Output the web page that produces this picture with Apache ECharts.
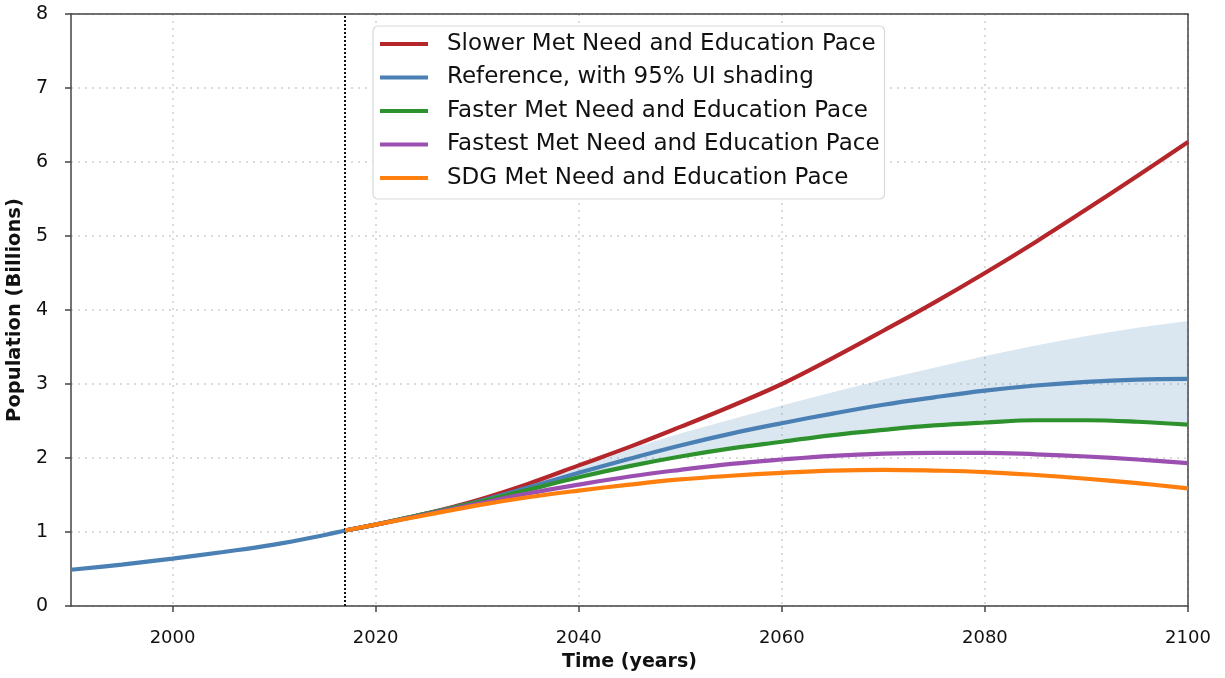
<!DOCTYPE html>
<html>
<head>
<meta charset="utf-8">
<script src="https://cdn.jsdelivr.net/npm/echarts@6/dist/echarts.min.js"></script>
<style>
html,body{margin:0;padding:0;background:#fff;}
#chart{width:1225px;height:678px;}
</style>
</head>
<body>
<div id="chart"></div>
<script>
// ---- data ----
const histYears = [1990, 1995, 2000, 2005, 2010, 2015, 2017];
const histValues = [0.49, 0.56, 0.64, 0.73, 0.83, 0.96, 1.02];

const projYears = [2017, 2020, 2025, 2030, 2035, 2040, 2045, 2050, 2055, 2060, 2065, 2070, 2075, 2080, 2085, 2090, 2095, 2100];
const slower    = [1.02, 1.10, 1.25, 1.43, 1.65, 1.90, 2.15, 2.42, 2.70, 3.00, 3.35, 3.72, 4.10, 4.50, 4.92, 5.36, 5.81, 6.27];
const reference = [1.02, 1.10, 1.25, 1.41, 1.60, 1.80, 1.99, 2.17, 2.33, 2.47, 2.60, 2.72, 2.82, 2.91, 2.98, 3.03, 3.06, 3.07];
const faster    = [1.02, 1.10, 1.25, 1.40, 1.57, 1.74, 1.89, 2.02, 2.13, 2.22, 2.31, 2.38, 2.44, 2.48, 2.51, 2.51, 2.49, 2.45];
const fastest   = [1.02, 1.10, 1.24, 1.38, 1.52, 1.64, 1.75, 1.84, 1.92, 1.98, 2.03, 2.06, 2.07, 2.07, 2.05, 2.02, 1.98, 1.93];
const sdg       = [1.02, 1.10, 1.23, 1.36, 1.47, 1.56, 1.64, 1.71, 1.76, 1.80, 1.83, 1.84, 1.83, 1.81, 1.77, 1.72, 1.66, 1.59];
const uiUpper   = [1.02, 1.10, 1.26, 1.44, 1.66, 1.90, 2.12, 2.33, 2.52, 2.71, 2.89, 3.06, 3.22, 3.38, 3.52, 3.65, 3.76, 3.85];
const uiLower   = [1.02, 1.10, 1.25, 1.40, 1.58, 1.76, 1.91, 2.05, 2.16, 2.25, 2.34, 2.41, 2.47, 2.51, 2.53, 2.53, 2.51, 2.48];

const vlineYear = 2017;
const xTicks = [2000, 2020, 2040, 2060, 2080, 2100];

const names = [
  'Slower Met Need and Education Pace',
  'Reference, with 95% UI shading',
  'Faster Met Need and Education Pace',
  'Fastest Met Need and Education Pace',
  'SDG Met Need and Education Pace'
];
const colors = ['#b5262b', '#4a80b4', '#2d922d', '#9b4fb0', '#ff7f0e'];

// ---- build ----
const zip = (xs, ys) => xs.map((x, i) => [x, ys[i]]);
const refAll = zip(histYears, histValues).concat(zip(projYears, reference).slice(1));
const FONT = 'DejaVu Sans';

function lineSeries(name, data, color, z) {
  return {
    name: name, type: 'line', data: data, smooth: 0.4, symbol: 'none', z: z,
    lineStyle: {color: color, width: 4.2}, itemStyle: {color: color}
  };
}

const chart = echarts.init(document.getElementById('chart'), null, {renderer: 'canvas'});
const axisLineStyle = {color: '#444', width: 1.5};
const gridDots = {color: '#cfcfcf', width: 1.5, type: [2, 5]};
const option = {
  animation: false,
  backgroundColor: '#fff',
  grid: {left: 71, right: 37, top: 14, bottom: 72, containLabel: false, outerBoundsMode: 'none'},
  legend: {
    data: names.map((n, i) => ({name: n, itemStyle: {color: colors[i]}})),
    orient: 'vertical', left: 373, top: 26,
    itemWidth: 48, itemHeight: 4, icon: 'rect', itemGap: 10.5,
    padding: [6.5, 5, 9.5, 7],
    backgroundColor: '#fff', borderColor: '#d9d9d9', borderWidth: 1.2, borderRadius: 5,
    textStyle: {fontFamily: FONT, fontSize: 23, lineHeight: 23, color: '#111', padding: [0, 0, 0, 14]}
  },
  xAxis: [{
    type: 'value', min: 1990, max: 2100,
    axisLine: {show: true, lineStyle: axisLineStyle},
    axisTick: {show: true, length: 6, lineStyle: axisLineStyle, customValues: xTicks},
    axisLabel: {fontFamily: FONT, fontSize: 18, color: '#111', margin: 23, customValues: xTicks,
      formatter: v => String(v)},
    splitLine: {show: true, lineStyle: gridDots},
    name: 'Time (years)', nameLocation: 'middle', nameGap: 47,
    nameTextStyle: {fontFamily: FONT, fontSize: 19, fontWeight: 'bold', color: '#111'}
  }, {
    type: 'value', min: 1990, max: 2100, position: 'top',
    axisLine: {show: true, onZero: false, lineStyle: axisLineStyle},
    axisTick: {show: false}, axisLabel: {show: false}, splitLine: {show: false}
  }],
  yAxis: [{
    type: 'value', min: 0, max: 8, interval: 1,
    axisLine: {show: true, lineStyle: axisLineStyle},
    axisTick: {show: true, length: 6, lineStyle: axisLineStyle},
    axisLabel: {fontFamily: FONT, fontSize: 19, color: '#111', margin: 23},
    splitLine: {show: true, lineStyle: gridDots},
    name: 'Population (Billions)', nameLocation: 'middle', nameGap: 39,
    nameTextStyle: {fontFamily: FONT, fontSize: 19.5, fontWeight: 'bold', color: '#111'}
  }, {
    type: 'value', min: 0, max: 8, interval: 1, position: 'right',
    axisLine: {show: true, onZero: false, lineStyle: axisLineStyle},
    axisTick: {show: false}, axisLabel: {show: false}, splitLine: {show: false}
  }],
  series: [
    {
      name: 'uiBand', type: 'custom', silent: true, z: 1,
      data: [[projYears[0], uiUpper[0]]],
      renderItem: function (params, api) {
        const up = projYears.map((x, i) => api.coord([x, uiUpper[i]]));
        const lo = projYears.map((x, i) => api.coord([x, uiLower[i]])).reverse();
        return {
          type: 'polygon',
          shape: {points: up.concat(lo)},
          style: {fill: 'rgba(70,130,180,0.2)', stroke: null}
        };
      }
    },
    lineSeries(names[0], zip(projYears, slower), colors[0], 3),
    Object.assign(lineSeries(names[1], refAll, colors[1], 4), {
      markLine: {
        silent: true, symbol: ['none', 'none'], label: {show: false},
        lineStyle: {color: '#111', type: [2, 2], width: 2},
        data: [{xAxis: vlineYear}]
      }
    }),
    lineSeries(names[2], zip(projYears, faster), colors[2], 5),
    lineSeries(names[3], zip(projYears, fastest), colors[3], 6),
    lineSeries(names[4], zip(projYears, sdg), colors[4], 7)
  ]
};
chart.setOption(option);
</script>
</body>
</html>
